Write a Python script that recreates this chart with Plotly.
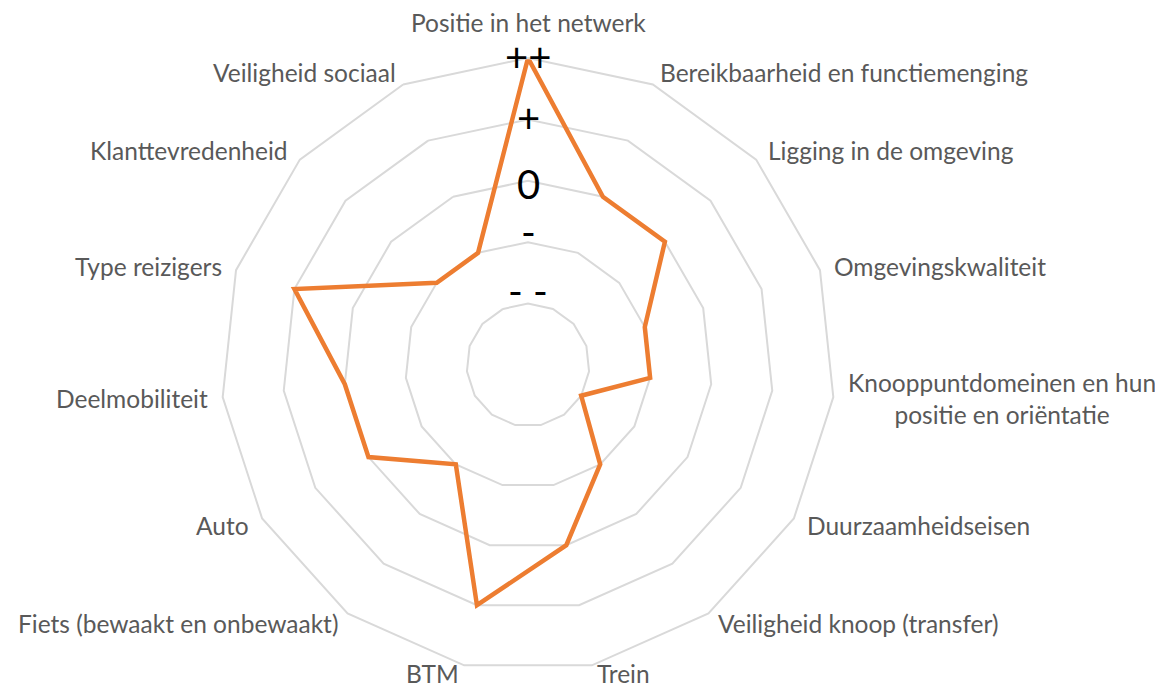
import math
import plotly.graph_objects as go

categories = [
    "Positie in het netwerk",
    "Bereikbaarheid en functiemenging",
    "Ligging in de omgeving",
    "Omgevingskwaliteit",
    "Knooppuntdomeinen en hun positie en oriëntatie",
    "Duurzaamheidseisen",
    "Veiligheid knoop (transfer)",
    "Trein",
    "BTM",
    "Fiets (bewaakt en onbewaakt)",
    "Auto",
    "Deelmobiliteit",
    "Type reizigers",
    "Klanttevredenheid",
    "Veiligheid sociaal",
]
scores = [5, 3, 3, 2, 2, 1, 2, 3, 4, 2, 3, 3, 4, 2, 2]
level_values = [1, 2, 3, 4, 5]
level_labels = ["- -", "-", "0", "+", "++"]

# small vertical nudges (px) so the glyphs sit on their ring like the original
level_label_dy = [-13, -10, 3, -1, -1]

display_labels = [c.replace("hun positie", "hun<br>positie") for c in categories]

# figure geometry (the page body adds an 8px offset)
W, H = 1155, 681
cx, cy, R = 520, 357, 307
rmax = level_values[-1]
label_size = 24.5

fig = go.Figure()
fig.add_trace(go.Scatterpolar(
    r=scores + scores[:1],
    theta=categories + categories[:1],
    mode="lines",
    line=dict(color="#ED7D31", width=4.5),
    hoverinfo="skip",
    showlegend=False,
))

annotations = []
# radial level labels along the top spoke
for v, lab, dy in zip(level_values, level_labels, level_label_dy):
    py = cy - v * R / rmax + dy
    annotations.append(dict(
        x=cx / W, y=1 - py / H, xref="paper", yref="paper",
        text=lab, showarrow=False, xanchor="center", yanchor="middle",
        font=dict(family="Lato", size=40, color="#000000"),
    ))

# category labels placed just outside each vertex of the outer ring
n = len(categories)
for k, lab in enumerate(display_labels):
    a = math.radians(90 - 360.0 * k / n)
    ca, sa = math.cos(a), math.sin(a)
    if k == 0:
        d = R + 36
        xanchor = "center"
    else:
        d = R + 13
        xanchor = "left" if ca > 0 else "right"
    px = cx + d * ca
    py = cy - d * sa
    py = min(py, H - 16)
    annotations.append(dict(
        x=px / W, y=1 - py / H, xref="paper", yref="paper",
        text=lab, showarrow=False, xanchor=xanchor, yanchor="middle",
        align="center",
        font=dict(family="Lato", size=label_size, color="#595959"),
    ))

fig.update_layout(
    width=W, height=H,
    paper_bgcolor="white",
    plot_bgcolor="white",
    margin=dict(l=0, r=0, t=0, b=0),
    font=dict(family="Lato", size=label_size, color="#595959"),
    annotations=annotations,
    polar=dict(
        domain=dict(x=[(cx - R) / W, (cx + R) / W], y=[1 - (cy + R) / H, 1 - (cy - R) / H]),
        gridshape="linear",
        bgcolor="white",
        angularaxis=dict(
            type="category",
            categoryorder="array",
            categoryarray=categories,
            direction="clockwise",
            rotation=90,
            showgrid=False,
            showline=True,
            linecolor="#D9D9D9",
            linewidth=2,
            ticks="",
            showticklabels=False,
        ),
        radialaxis=dict(
            range=[0, rmax],
            tickvals=level_values,
            showticklabels=False,
            ticks="",
            showline=False,
            showgrid=True,
            gridcolor="#D9D9D9",
            gridwidth=2,
        ),
    ),
)

fig.write_html("out.html")
